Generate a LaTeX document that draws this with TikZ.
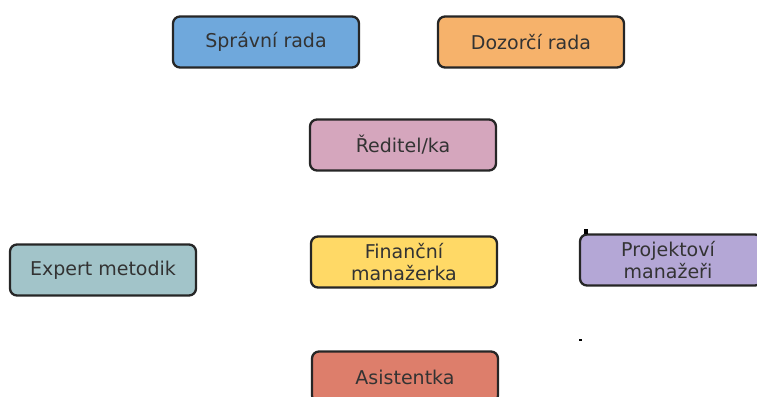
\documentclass[tikz,border=0pt]{standalone}
\usepackage{fontspec}
\setmainfont{DejaVu Sans}
\definecolor{spravni}{HTML}{6FA8DC}
\definecolor{dozorci}{HTML}{F6B26B}
\definecolor{reditel}{HTML}{D5A6BD}
\definecolor{expert}{HTML}{A2C4C9}
\definecolor{financni}{HTML}{FFD966}
\definecolor{projekt}{HTML}{B4A7D6}
\definecolor{asist}{HTML}{DD7E6B}
\begin{document}
\begin{tikzpicture}[
		x=1pt, y=-1pt,
		box/.style={draw=black!85, line width=2.3pt, rounded corners=7pt,
		minimum width=186pt, minimum height=51pt, inner sep=0pt,
		align=center, text=black!80, font=\fontsize{19}{22}\selectfont},
		speck/.style={fill=black, inner sep=0pt}
	]
		\useasboundingbox (0,0) rectangle (757,396);
		\clip (0,0) rectangle (757,396);

		% y coordinates of the rows
		\def\ya{42}
		\def\yb{145}
		\def\yc{266}
		\def\yd{377}

		% boards
		\node[box, fill=spravni] (spravni) at (266,\ya) {Správní rada};
		\node[box, fill=dozorci] (dozorci) at (531,\ya) {Dozorčí rada};

		% management
		\node[box, fill=reditel] (reditel) at (403,\yb) {Ředitel/ka};

		% staff
		\node[box, fill=expert] (expert) at (103,\yc+4) {Expert metodik};
		\node[box, fill=financni] (financni) at (404,\yc-4) {Finanční\\manažerka};
		\node[box, fill=projekt, minimum width=182pt, text width=182pt] (projekt) at (671,\yc-6) {\hspace*{-6pt}Projektoví\\\hspace*{-6pt}manažeři};
		\node[box, fill=asist] (asist) at (405,\yd) {Asistentka};

		% small specks
		\node[speck, minimum width=4pt, minimum height=5pt] (speckA) at (586,231) {};
		\node[speck, minimum width=3pt, minimum height=1.5pt] (speckB) at (580,340) {};
	\end{tikzpicture}
\end{document}
